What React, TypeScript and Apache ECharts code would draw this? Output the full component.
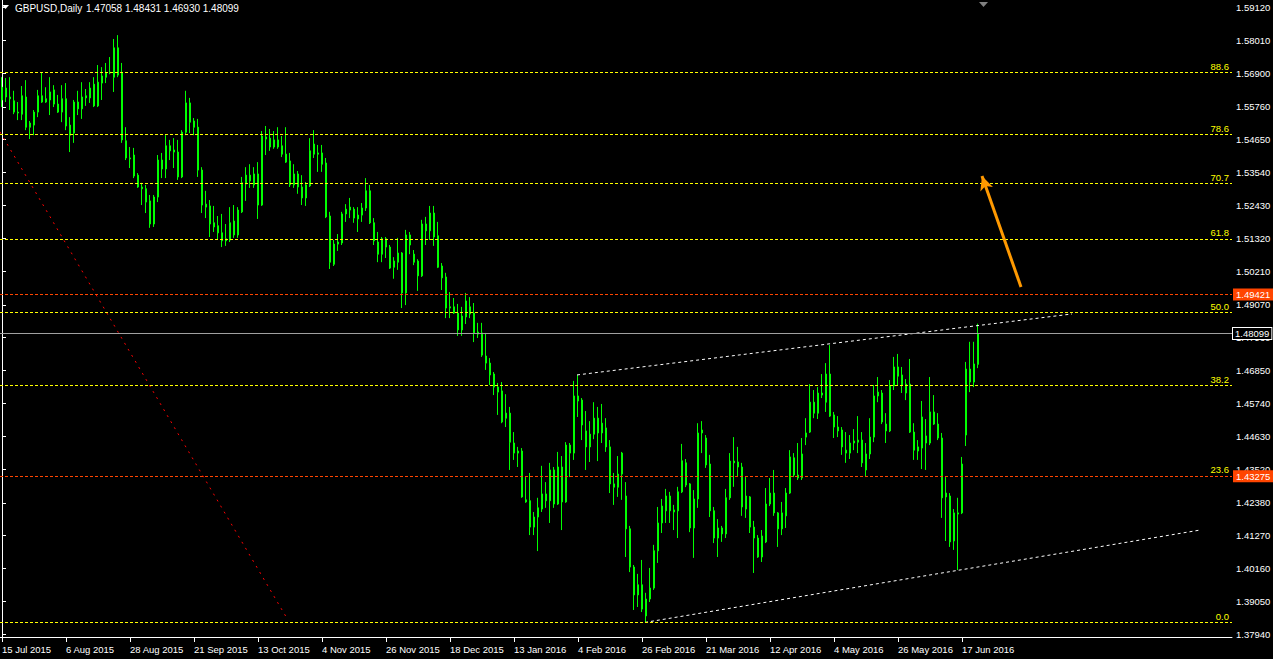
import React, { useEffect, useRef } from "react";
import * as echarts from "echarts";

const dateLabels = [
  "15 Jul 2015", "6 Aug 2015", "28 Aug 2015", "21 Sep 2015", "13 Oct 2015", "4 Nov 2015",
  "26 Nov 2015", "18 Dec 2015", "13 Jan 2016", "4 Feb 2016", "26 Feb 2016", "21 Mar 2016",
  "12 Apr 2016", "4 May 2016", "26 May 2016", "17 Jun 2016",
];
const barsPerLabel = 16;
const slotCount = 308;

const priceTicks = [
  1.5912, 1.5801, 1.569, 1.5576, 1.5465, 1.5354, 1.5243, 1.5132, 1.5021, 1.4907,
  1.4796, 1.4685, 1.4574, 1.4463, 1.4352, 1.4238, 1.4127, 1.4016, 1.3905, 1.3794,
];
const priceMin = 1.37847;
const priceMax = 1.59367;

const fibLabels = ["88.6", "78.6", "70.7", "61.8", "50.0", "38.2", "23.6", "0.0"];
const fibPrices = [1.5691, 1.5482, 1.5316, 1.513, 1.48825, 1.4635, 1.4329, 1.3835];
const alertPrices = [1.49421, 1.43275];
const bidPrice = 1.48099;

const upperChannel = [[143.75, 1.467], [267.5, 1.4876]];
const lowerChannel = [[160.75, 1.3834], [299.5, 1.4146]];
const redDiagonal = [[-0.5, 1.5491], [71.5, 1.3842]];
const arrowLine = [[254.75, 1.4967], [245, 1.5342]];

// [open, high, low, close]
const candles = [
  [1.5599,1.5676,1.5575,1.5642],[1.5639,1.5673,1.5592,1.5609],[1.5609,1.5676,1.5565,1.5603],[1.5596,1.5630,1.5551,1.5558],
  [1.5558,1.5592,1.5531,1.5555],[1.5551,1.5646,1.5531,1.5613],[1.5609,1.5666,1.5497,1.5507],[1.5507,1.5528,1.5467,1.5521],
  [1.5514,1.5565,1.5480,1.5558],[1.5558,1.5633,1.5541,1.5613],[1.5613,1.5690,1.5589,1.5592],[1.5592,1.5642,1.5589,1.5603],
  [1.5599,1.5676,1.5548,1.5626],[1.5633,1.5649,1.5575,1.5585],[1.5585,1.5616,1.5555,1.5558],[1.5558,1.5649,1.5524,1.5603],
  [1.5603,1.5656,1.5497,1.5511],[1.5514,1.5541,1.5423,1.5480],[1.5487,1.5599,1.5454,1.5592],[1.5592,1.5630,1.5548,1.5569],
  [1.5569,1.5659,1.5535,1.5609],[1.5613,1.5636,1.5579,1.5606],[1.5606,1.5659,1.5589,1.5639],[1.5652,1.5676,1.5575,1.5579],
  [1.5579,1.5717,1.5575,1.5659],[1.5656,1.5710,1.5599,1.5680],[1.5676,1.5724,1.5656,1.5690],[1.5690,1.5744,1.5686,1.5693],
  [1.5676,1.5805,1.5626,1.5775],[1.5775,1.5818,1.5676,1.5683],[1.5690,1.5724,1.5454,1.5464],[1.5461,1.5507,1.5396,1.5403],
  [1.5403,1.5440,1.5369,1.5400],[1.5413,1.5437,1.5335,1.5342],[1.5345,1.5352,1.5302,1.5305],[1.5305,1.5319,1.5244,1.5299],
  [1.5299,1.5312,1.5217,1.5254],[1.5258,1.5278,1.5167,1.5180],[1.5180,1.5278,1.5170,1.5271],[1.5271,1.5413,1.5254,1.5396],
  [1.5396,1.5420,1.5335,1.5366],[1.5366,1.5480,1.5335,1.5444],[1.5444,1.5464,1.5396,1.5427],[1.5430,1.5470,1.5369,1.5423],
  [1.5423,1.5464,1.5329,1.5339],[1.5339,1.5497,1.5335,1.5490],[1.5490,1.5630,1.5480,1.5589],[1.5589,1.5606,1.5487,1.5524],
  [1.5528,1.5538,1.5480,1.5507],[1.5507,1.5535,1.5339,1.5362],[1.5362,1.5372,1.5217,1.5244],[1.5247,1.5292,1.5200,1.5237],
  [1.5241,1.5261,1.5136,1.5180],[1.5184,1.5241,1.5153,1.5170],[1.5174,1.5207,1.5126,1.5150],[1.5150,1.5214,1.5102,1.5123],
  [1.5123,1.5180,1.5106,1.5130],[1.5126,1.5237,1.5119,1.5184],[1.5190,1.5244,1.5133,1.5143],[1.5143,1.5237,1.5133,1.5227],
  [1.5221,1.5339,1.5217,1.5319],[1.5315,1.5372,1.5258,1.5345],[1.5345,1.5382,1.5302,1.5325],[1.5312,1.5372,1.5302,1.5349],
  [1.5349,1.5389,1.5197,1.5244],[1.5244,1.5494,1.5241,1.5477],[1.5474,1.5511,1.5413,1.5467],[1.5470,1.5501,1.5427,1.5440],
  [1.5440,1.5494,1.5434,1.5464],[1.5464,1.5507,1.5434,1.5440],[1.5444,1.5477,1.5406,1.5416],[1.5416,1.5507,1.5386,1.5389],
  [1.5393,1.5420,1.5305,1.5312],[1.5312,1.5382,1.5302,1.5349],[1.5349,1.5359,1.5282,1.5305],[1.5305,1.5345,1.5244,1.5268],
  [1.5268,1.5322,1.5241,1.5312],[1.5309,1.5470,1.5305,1.5427],[1.5416,1.5497,1.5403,1.5450],[1.5420,1.5447,1.5356,1.5416],
  [1.5420,1.5447,1.5356,1.5382],[1.5386,1.5403,1.5200,1.5204],[1.5207,1.5221,1.5028,1.5051],[1.5044,1.5126,1.5038,1.5112],
  [1.5112,1.5146,1.5089,1.5119],[1.5116,1.5221,1.5109,1.5214],[1.5214,1.5247,1.5187,1.5230],[1.5227,1.5268,1.5200,1.5237],
  [1.5230,1.5237,1.5184,1.5200],[1.5197,1.5237,1.5153,1.5210],[1.5210,1.5251,1.5187,1.5234],[1.5234,1.5335,1.5224,1.5292],
  [1.5292,1.5312,1.5180,1.5184],[1.5184,1.5200,1.5109,1.5123],[1.5119,1.5153,1.5051,1.5078],[1.5078,1.5136,1.5051,1.5130],
  [1.5130,1.5136,1.5065,1.5102],[1.5102,1.5109,1.5028,1.5031],[1.5034,1.5068,1.4995,1.5055],[1.5051,1.5133,1.5025,1.5082],
  [1.5082,1.5085,1.4896,1.4947],[1.4947,1.5160,1.4906,1.5143],[1.5143,1.5153,1.5078,1.5109],[1.5078,1.5092,1.5041,1.5051],
  [1.5055,1.5061,1.4954,1.5005],[1.5005,1.5194,1.5001,1.5180],[1.5180,1.5204,1.5109,1.5157],[1.5157,1.5241,1.5126,1.5217],
  [1.5217,1.5241,1.5106,1.5136],[1.5140,1.5187,1.5031,1.5034],[1.5038,1.5048,1.4957,1.4998],[1.5001,1.5015,1.4862,1.4896],
  [1.4900,1.4950,1.4862,1.4896],[1.4900,1.4930,1.4876,1.4879],[1.4879,1.4910,1.4802,1.4822],[1.4822,1.4900,1.4802,1.4869],
  [1.4866,1.4947,1.4842,1.4920],[1.4900,1.4933,1.4862,1.4876],[1.4879,1.4913,1.4781,1.4812],[1.4815,1.4846,1.4795,1.4808],
  [1.4812,1.4846,1.4731,1.4737],[1.4734,1.4812,1.4687,1.4710],[1.4710,1.4727,1.4636,1.4670],[1.4673,1.4680,1.4602,1.4629],
  [1.4629,1.4643,1.4535,1.4612],[1.4616,1.4646,1.4507,1.4511],[1.4524,1.4605,1.4494,1.4541],[1.4541,1.4562,1.4349,1.4443],
  [1.4440,1.4477,1.4383,1.4406],[1.4413,1.4427,1.4359,1.4406],[1.4413,1.4423,1.4255,1.4258],[1.4248,1.4325,1.4238,1.4241],
  [1.4245,1.4339,1.4129,1.4156],[1.4156,1.4207,1.4129,1.4190],[1.4190,1.4255,1.4075,1.4221],[1.4217,1.4363,1.4207,1.4268],
  [1.4268,1.4308,1.4221,1.4245],[1.4245,1.4373,1.4170,1.4349],[1.4349,1.4359,1.4221,1.4234],[1.4234,1.4410,1.4231,1.4359],
  [1.4359,1.4396,1.4146,1.4241],[1.4241,1.4443,1.4238,1.4433],[1.4433,1.4440,1.4325,1.4406],[1.4406,1.4650,1.4383,1.4599],
  [1.4599,1.4670,1.4528,1.4582],[1.4585,1.4592,1.4450,1.4501],[1.4481,1.4548,1.4349,1.4427],[1.4427,1.4514,1.4376,1.4470],
  [1.4470,1.4578,1.4453,1.4524],[1.4524,1.4562,1.4379,1.4474],[1.4474,1.4572,1.4440,1.4507],[1.4491,1.4524,1.4410,1.4427],
  [1.4427,1.4450,1.4271,1.4302],[1.4302,1.4339,1.4231,1.4291],[1.4291,1.4396,1.4258,1.4335],[1.4335,1.4410,1.4248,1.4406],
  [1.4261,1.4308,1.4055,1.4150],[1.4150,1.4160,1.4004,1.4021],[1.4021,1.4028,1.3876,1.3927],[1.3927,1.3998,1.3886,1.3961],
  [1.3961,1.4045,1.3869,1.3879],[1.3856,1.3934,1.3832,1.3913],[1.3913,1.4018,1.3903,1.3950],[1.3950,1.4096,1.3944,1.4076],
  [1.4076,1.4224,1.4035,1.4170],[1.4170,1.4251,1.4136,1.4227],[1.4211,1.4285,1.4170,1.4261],[1.4261,1.4275,1.4170,1.4211],
  [1.4214,1.4231,1.4146,1.4207],[1.4211,1.4292,1.4119,1.4275],[1.4275,1.4437,1.4271,1.4380],[1.4373,1.4386,1.4291,1.4298],
  [1.4302,1.4305,1.4139,1.4153],[1.4153,1.4281,1.4052,1.4251],[1.4251,1.4507,1.4221,1.4474],[1.4474,1.4514,1.4406,1.4484],
  [1.4457,1.4467,1.4356,1.4366],[1.4369,1.4400,1.4190,1.4211],[1.4211,1.4224,1.4102,1.4119],[1.4119,1.4183,1.4055,1.4153],
  [1.4153,1.4160,1.4106,1.4133],[1.4133,1.4285,1.4119,1.4255],[1.4255,1.4406,1.4248,1.4379],[1.4379,1.4460,1.4292,1.4373],
  [1.4376,1.4427,1.4325,1.4359],[1.4359,1.4373,1.4194,1.4224],[1.4217,1.4325,1.4187,1.4261],[1.4258,1.4261,1.4136,1.4156],
  [1.4156,1.4177,1.4001,1.4119],[1.4119,1.4129,1.4052,1.4055],[1.4055,1.4146,1.4038,1.4126],[1.4106,1.4288,1.4102,1.4234],
  [1.4234,1.4322,1.4227,1.4271],[1.4271,1.4349,1.4194,1.4204],[1.4204,1.4207,1.4089,1.4150],[1.4150,1.4241,1.4129,1.4204],
  [1.4194,1.4288,1.4153,1.4271],[1.4271,1.4416,1.4268,1.4393],[1.4390,1.4406,1.4325,1.4332],[1.4332,1.4440,1.4315,1.4322],
  [1.4322,1.4457,1.4315,1.4403],[1.4460,1.4524,1.4433,1.4474],[1.4477,1.4639,1.4474,1.4578],[1.4578,1.4619,1.4524,1.4541],
  [1.4541,1.4629,1.4521,1.4609],[1.4602,1.4673,1.4592,1.4609],[1.4578,1.4710,1.4545,1.4673],[1.4673,1.4771,1.4528,1.4531],
  [1.4535,1.4545,1.4457,1.4494],[1.4494,1.4531,1.4460,1.4481],[1.4484,1.4494,1.4400,1.4427],[1.4416,1.4477,1.4373,1.4406],
  [1.4406,1.4467,1.4386,1.4440],[1.4440,1.4487,1.4416,1.4447],[1.4443,1.4531,1.4406,1.4450],[1.4450,1.4477,1.4359,1.4373],
  [1.4349,1.4440,1.4325,1.4403],[1.4403,1.4524,1.4386,1.4460],[1.4460,1.4636,1.4443,1.4599],[1.4599,1.4663,1.4578,1.4612],
  [1.4609,1.4619,1.4504,1.4511],[1.4504,1.4541,1.4440,1.4481],[1.4481,1.4653,1.4477,1.4633],[1.4633,1.4731,1.4619,1.4697],
  [1.4697,1.4741,1.4636,1.4666],[1.4670,1.4697,1.4609,1.4636],[1.4609,1.4656,1.4585,1.4639],[1.4639,1.4724,1.4474,1.4477],
  [1.4477,1.4507,1.4383,1.4416],[1.4413,1.4450,1.4383,1.4427],[1.4423,1.4582,1.4352,1.4528],[1.4464,1.4521,1.4349,1.4440],
  [1.4440,1.4663,1.4433,1.4545],[1.4545,1.4602,1.4501,1.4504],[1.4504,1.4541,1.4450,1.4457],[1.4457,1.4474,1.4187,1.4255],
  [1.4258,1.4325,1.4109,1.4271],[1.4261,1.4271,1.4089,1.4106],[1.4109,1.4217,1.4079,1.4204],[1.4204,1.4255,1.4011,1.4200],
  [1.4204,1.4393,1.4200,1.4369],[1.4467,1.4714,1.4430,1.4690],[1.4690,1.4782,1.4612,1.4646],[1.4646,1.4782,1.4629,1.4707],
  [1.47058,1.48431,1.4693,1.48099],
];

const titleSymbol = "GBPUSD,Daily";
const titleQuote = "1.47058 1.48431 1.46930 1.48099";

const FONT = "'Liberation Sans', Arial, sans-serif";
const FS = 9.5;
const LIME = "#00ff00";
const BODY = "#9cff9c";
const YELLOW = "#ffff00";
const ORANGERED = "#ff4500";

export default function App() {
  const ref = useRef<HTMLDivElement>(null);

  useEffect(() => {
    document.body.style.margin = "0";
    document.body.style.background = "#000";
    if (!ref.current) return;
    const chart = echarts.init(ref.current, null, { renderer: "svg" });

    const categories = Array.from({ length: slotCount }, (_, i) => String(i));
    const candleData = candles.map(([o, h, l, c]) => [o, c, l, h]);

    const hLines: any[] = [];
    fibPrices.forEach((p, i) => {
      hLines.push({
        yAxis: p,
        lineStyle: { color: YELLOW, type: [3, 2], width: 1 },
        label: {
          show: true, position: "insideEndTop", formatter: fibLabels[i],
          color: YELLOW, fontSize: FS, fontFamily: FONT, distance: [3, 1],
        },
      });
    });
    alertPrices.forEach((p) => {
      hLines.push({
        yAxis: p,
        lineStyle: { color: ORANGERED, type: [3, 2], width: 1 },
        label: {
          show: true, position: "end", formatter: p.toFixed(5), color: "#ffffff",
          backgroundColor: ORANGERED, padding: [1, 3, 0, 3], fontSize: FS, fontFamily: FONT,
          lineHeight: 11, distance: 1,
        },
      });
    });
    hLines.push({
      yAxis: bidPrice,
      lineStyle: { color: "#a0a0a0", type: "solid", width: 1 },
      label: {
        show: true, position: "end", formatter: bidPrice.toFixed(5), color: "#ffffff",
        backgroundColor: "#000000", borderColor: "#ffffff", borderWidth: 1,
        padding: [0, 2, 0, 2], fontSize: FS, fontFamily: FONT, lineHeight: 11, distance: 1,
      },
    });

    const trend = (data: number[][], color: string, dash: number[]) => ({
      type: "line", xAxisIndex: 1, yAxisIndex: 0, data, showSymbol: false, silent: true, z: 3,
      lineStyle: { color, width: 1, type: dash },
    });

    const showTick = (i: number) => i % barsPerLabel === 0 && i / barsPerLabel < dateLabels.length;

    chart.setOption({
      animation: false,
      backgroundColor: "#000000",
      grid: { left: 0, top: 0, width: 1232, height: 637, containLabel: false, outerBoundsMode: "none" },
      xAxis: [
        {
          type: "category", data: categories, boundaryGap: true,
          axisLine: { show: true, lineStyle: { color: "#ffffff", width: 1 } },
          axisTick: { show: true, alignWithLabel: true, length: 5, lineStyle: { color: "#ffffff" }, interval: showTick },
          axisLabel: {
            show: true, color: "#ffffff", fontSize: FS, fontFamily: FONT, align: "left", margin: 7,
            interval: showTick,
            formatter: (_v: string, i: number) => dateLabels[i / barsPerLabel] ?? "",
          },
          splitLine: { show: false },
        },
        { type: "value", min: -0.5, max: slotCount - 0.5, show: false },
      ],
      yAxis: {
        type: "value", position: "right", min: priceMin, max: priceMax, scale: true,
        axisLine: { show: true, lineStyle: { color: "#ffffff", width: 1 } },
        axisTick: { show: true, length: 4, customValues: priceTicks, lineStyle: { color: "#ffffff" } },
        axisLabel: {
          show: true, customValues: priceTicks, color: "#ffffff", fontSize: FS, fontFamily: FONT, margin: 4,
          formatter: (v: number) => v.toFixed(5),
        },
        splitLine: { show: false },
      },
      series: [
        {
          type: "line", xAxisIndex: 1, yAxisIndex: 0, data: [], silent: true, z: 1,
          markLine: { symbol: ["none", "none"], precision: 6, silent: true, animation: false, data: hLines },
        },
        {
          type: "candlestick", xAxisIndex: 0, yAxisIndex: 0, data: candleData, barWidth: 2, z: 2,
          itemStyle: { color: BODY, color0: BODY, borderColor: LIME, borderColor0: LIME, borderWidth: 1 },
        },
        trend(upperChannel, "#ffffff", [3, 3]),
        trend(lowerChannel, "#ffffff", [3, 3]),
        trend(redDiagonal, "#ff0000", [2, 5]),
        {
          type: "line", xAxisIndex: 1, yAxisIndex: 0, data: [], silent: true, z: 4,
          markLine: {
            symbol: ["none", "arrow"], symbolSize: [10, 14], precision: 6, silent: true, animation: false,
            label: { show: false },
            lineStyle: { color: "#ff9900", width: 3, type: "solid" },
            data: [[{ coord: arrowLine[0] }, { coord: arrowLine[1] }]],
          },
        },
      ],
      graphic: [
        { type: "polygon", shape: { points: [[2, 5], [9, 5], [5.5, 9]] }, style: { fill: "#ffffff" }, silent: true },
        { type: "text", x: 15, y: 3, style: { text: titleSymbol, fill: "#ffffff", fontSize: FS + 0.5, fontFamily: FONT }, silent: true },
        { type: "text", x: 86, y: 3, style: { text: titleQuote, fill: "#ffffff", fontSize: FS + 0.5, fontFamily: FONT }, silent: true },
        { type: "polygon", shape: { points: [[979, 2], [988, 2], [983.5, 7]] }, style: { fill: "#808080" }, silent: true },
      ],
    });

    return () => chart.dispose();
  }, []);

  return <div ref={ref} style={{ width: 1273, height: 659, background: "#000" }} />;
}
